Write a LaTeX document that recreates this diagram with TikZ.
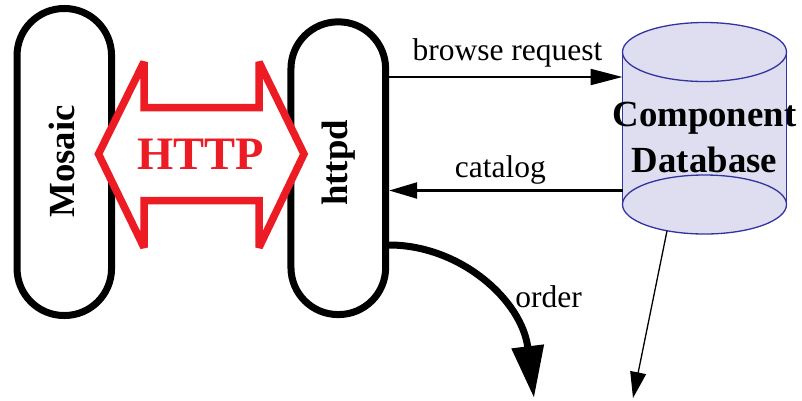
\documentclass[tikz,border=0pt]{standalone}
\usepackage{fontspec}
\setmainfont{Liberation Serif}
\usetikzlibrary{arrows.meta}
\definecolor{httpred}{RGB}{237,28,36}
\definecolor{dbfill}{RGB}{222,222,240}
\definecolor{dbline}{RGB}{51,51,160}
\begin{document}
\begin{tikzpicture}[x=1pt,y=-1pt,
  pill/.style={draw, line width=7pt, rounded corners=47pt, inner sep=0pt, outer sep=3.5pt, fill=white},
  pilltext/.style={rotate=90, font=\bfseries\fontsize{36.8}{44}\selectfont, inner sep=0pt},
  lbl/.style={font=\fontsize{31.5}{38}\selectfont, inner sep=0pt, anchor=base},
  flowline/.style={line width=2.2pt},
  dbstroke/.style={dbline, line width=1.3pt},
  bigarrow/.style={httpred, line width=7.5pt, line join=miter, miter limit=3, fill=white}
]
\useasboundingbox (0,0) rectangle (802,400);

% pills
\node[pill, minimum width=94.5pt, minimum height=307pt] (mosaic) at (64.3,162) {};
\node[pill, minimum width=94.7pt, minimum height=292.7pt] (httpd) at (338.3,168.2) {};
\node[pilltext] (mosaictext) at (61.5,161.5) {Mosaic};
\node[pilltext] (httpdtext) at (338.5,163) {httpd};

% HTTP double arrow
\draw[bigarrow] (98.5,154) -- (144,62) -- (144,107.5) -- (259,107.5) -- (259,62)
  -- (304,154) -- (259,247.5) -- (259,200.5) -- (144,200.5) -- (144,247.5) -- cycle;
\node[text=httpred, font=\bfseries\fontsize{46.5}{50}\selectfont, inner sep=0pt] (http) at (201,154.6) {HTTP};

% database cylinder
\node[inner sep=0pt, outer sep=0pt, minimum width=164pt, minimum height=152.5pt] (db) at (704.5,128.25) {};
\fill[dbfill] (db.south west) arc[start angle=180, end angle=360, x radius=82pt, y radius=29.5pt]
  -- (db.north east) arc[start angle=0, end angle=180, x radius=82pt, y radius=29.5pt] -- cycle;
\draw[dbstroke] (db.south west) -- (db.north west) (db.south east) -- (db.north east);
\draw[dbstroke] (db.north) ellipse[x radius=82pt, y radius=29.5pt];
\draw[dbstroke] (db.south) ellipse[x radius=82pt, y radius=29.5pt];
\node[font=\bfseries\fontsize{36.8}{46}\selectfont, align=center, inner sep=0pt] (dbtext)
  at ([yshift=-9.3pt]db.center) {Component\\Database};

% rows
\coordinate (rowB) at (0,77);
\coordinate (rowC) at (0,190.5);
\coordinate (rowD) at (0,245);
\coordinate (dbout) at (667,230.8);
\coordinate (sinkA) at (633,398);
\coordinate (sinkB) at (534,398);

\draw[flowline, -{Triangle[length=32pt,width=16pt]}] (httpd.east |- rowB) --
  node[lbl, xshift=1.6pt, yshift=17pt] (browselbl) {browse request} (db.west |- rowB);
\draw[flowline, -{Triangle[length=28pt,width=16pt]}] (db.west |- rowC) --
  node[lbl, xshift=-5.4pt, yshift=13.5pt] (cataloglbl) {catalog} (httpd.east |- rowC);
\draw[line width=7pt, -{Triangle[length=52pt,width=31pt]}] (httpd.east |- rowD)
  .. controls (460,245) and (522,300) .. (sinkB);
\node[lbl] (orderlbl) at (548.5,307) {order};
\draw[line width=1.3pt, -{Triangle[length=26pt,width=16pt]}] (dbout) -- (sinkA);
\end{tikzpicture}
\end{document}
